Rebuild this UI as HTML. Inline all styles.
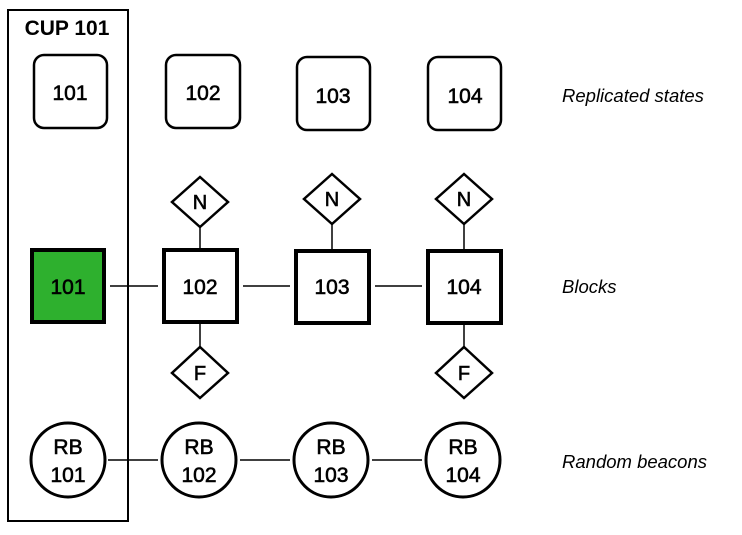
<!DOCTYPE html>
<html><head><style>body{margin:0;background:#fff}</style></head><body>
<svg width="742" height="530" xmlns="http://www.w3.org/2000/svg" font-family="Liberation Sans, sans-serif">
<rect x="8" y="10" width="120" height="511" fill="none" stroke="#000" stroke-width="2"/>
<text x="67" y="35" text-anchor="middle" font-weight="bold" font-size="21">CUP 101</text>
<g fill="#fff" stroke="#000" stroke-width="2.5">
<rect x="34" y="55" width="73" height="73" rx="10"/>
<rect x="166" y="55" width="74" height="73" rx="10"/>
<rect x="297" y="57" width="73" height="73" rx="10"/>
<rect x="428" y="57" width="73" height="73" rx="10"/>
</g>
<g font-size="21" text-anchor="middle" stroke="#000" stroke-width="0.6">
<text x="70" y="100">101</text><text x="203" y="100">102</text>
<text x="333" y="103">103</text><text x="465" y="103">104</text>
</g>
<g stroke="#000" stroke-width="1.5">
<line x1="110" y1="286" x2="158" y2="286"/>
<line x1="243" y1="286" x2="290" y2="286"/>
<line x1="375" y1="286" x2="422" y2="286"/>
<line x1="108" y1="460" x2="158" y2="460"/>
<line x1="240" y1="460" x2="290" y2="460"/>
<line x1="372" y1="460" x2="422" y2="460"/>
<line x1="200" y1="227" x2="200" y2="249"/>
<line x1="332" y1="224" x2="332" y2="249"/>
<line x1="464" y1="224" x2="464" y2="249"/>
<line x1="200" y1="323" x2="200" y2="347"/>
<line x1="464" y1="323" x2="464" y2="347"/>
</g>
<g stroke="#000" stroke-width="4">
<rect x="32" y="250" width="72" height="72" fill="#2eb02e"/>
<rect x="164" y="250" width="73" height="72" fill="#fff"/>
<rect x="296" y="251" width="73" height="72" fill="#fff"/>
<rect x="428" y="251" width="73" height="72" fill="#fff"/>
</g>
<g font-size="21" text-anchor="middle" stroke="#000" stroke-width="0.6">
<text x="68" y="294">101</text><text x="200" y="294">102</text>
<text x="332" y="294">103</text><text x="464" y="294">104</text>
</g>
<g fill="#fff" stroke="#000" stroke-width="2.5">
<polygon points="200,177 228,202 200,227 172,202"/>
<polygon points="332,174 360,199 332,224 304,199"/>
<polygon points="464,174 492,199 464,224 436,199"/>
<polygon points="200,347 228,373 200,398 172,373"/>
<polygon points="464,347 492,373 464,398 436,373"/>
</g>
<g font-size="20" text-anchor="middle" stroke="#000" stroke-width="0.6">
<text x="200" y="209">N</text><text x="332" y="206">N</text><text x="464" y="206">N</text>
<text x="200" y="380">F</text><text x="464" y="380">F</text>
</g>
<g fill="#fff" stroke="#000" stroke-width="3">
<circle cx="68" cy="460" r="37"/><circle cx="199" cy="460" r="37"/>
<circle cx="331" cy="460" r="37"/><circle cx="463" cy="460" r="37"/>
</g>
<g font-size="21" text-anchor="middle" stroke="#000" stroke-width="0.6">
<text x="68" y="454">RB</text><text x="68" y="482">101</text>
<text x="199" y="454">RB</text><text x="199" y="482">102</text>
<text x="331" y="454">RB</text><text x="331" y="482">103</text>
<text x="463" y="454">RB</text><text x="463" y="482">104</text>
</g>
<g font-size="18.5" font-style="italic">
<text x="562" y="102">Replicated states</text>
<text x="562" y="293">Blocks</text>
<text x="562" y="468">Random beacons</text>
</g>
</svg>
</body></html>
